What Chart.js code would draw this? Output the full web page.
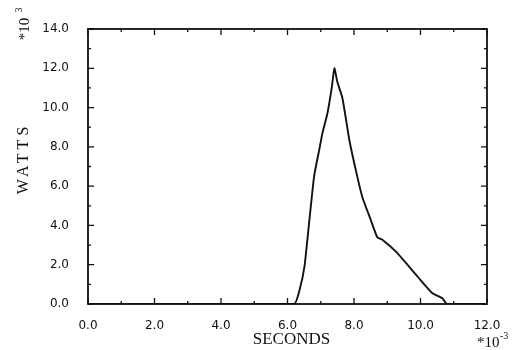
<!DOCTYPE html>
<html>
<head>
<meta charset="utf-8">
<script src="https://cdn.jsdelivr.net/npm/chart.js@4"></script>
<style>
  html, body { margin: 0; padding: 0; background: #fff; }
  #wrap { width: 514px; height: 350px; }
</style>
</head>
<body>
<div id="wrap"><canvas id="chart" width="514" height="350"></canvas></div>
<script>
// data (x in 1e-9 s, y in 1e3 W)
const seconds = [0, 6.2, 6.36, 6.51, 6.66, 6.8, 6.96, 7.05, 7.2, 7.33, 7.41, 7.5, 7.65, 7.86, 8.07, 8.25, 8.5, 8.7, 8.86, 9.27, 9.87, 10.0, 10.35, 10.65, 10.8, 12];
const watts   = [0, 0,   0.7,  1.9,  4.3,  6.5, 7.9,  8.7,  9.7, 11.0, 12.0, 11.3, 10.5, 8.35, 6.7,  5.45, 4.3, 3.4, 3.26, 2.65, 1.48, 1.22, 0.56,  0.3,   0,   0];
const xTicks = [0, 2, 4, 6, 8, 10, 12];
const yTicks = [0, 2, 4, 6, 8, 10, 12, 14];

const ink = '#111';
const tickFont = { family: 'DejaVu Sans', size: 12 };

// frame with inward ticks on all four sides + extra labels
const framePlugin = {
  id: 'frame',
  afterDraw(chart) {
    const ctx = chart.ctx;
    const a = chart.chartArea;
    const xs = chart.scales.x, ys = chart.scales.y;
    ctx.save();
    ctx.strokeStyle = ink;
    ctx.lineWidth = 1.8;
    ctx.strokeRect(a.left, a.top, a.right - a.left, a.bottom - a.top);
    ctx.lineWidth = 1.3;
    for (let v = 0; v <= 12; v++) {
      const px = xs.getPixelForValue(v);
      const len = v % 2 === 0 ? 6 : 3;
      ctx.beginPath();
      ctx.moveTo(px, a.bottom); ctx.lineTo(px, a.bottom - len);
      ctx.moveTo(px, a.top); ctx.lineTo(px, a.top + len);
      ctx.stroke();
    }
    for (let v = 0; v <= 14; v++) {
      const py = ys.getPixelForValue(v);
      const len = v % 2 === 0 ? 6 : 3;
      ctx.beginPath();
      ctx.moveTo(a.left, py); ctx.lineTo(a.left + len, py);
      ctx.moveTo(a.right, py); ctx.lineTo(a.right - len, py);
      ctx.stroke();
    }

    ctx.fillStyle = ink;
    // axis titles
    ctx.font = '17px "Liberation Serif"';
    ctx.textAlign = 'center';
    ctx.textBaseline = 'middle';
    ctx.fillText('SECONDS', (a.left + a.right) / 2 + 4, 340);

    ctx.save();
    ctx.translate(24, (a.top + a.bottom) / 2 - 6);
    ctx.rotate(-Math.PI / 2);
    ctx.letterSpacing = '4px';
    ctx.font = '16px "Liberation Serif"';
    ctx.fillText('WATTS', 2, 0);
    ctx.restore();

    // exponent labels
    ctx.font = '15px "Liberation Serif"';
    ctx.save();
    ctx.translate(25, 26);
    ctx.rotate(-Math.PI / 2);
    ctx.textAlign = 'center';
    ctx.fillText('*10', -3, 0);
    ctx.font = '10px "Liberation Serif"';
    ctx.fillText('3', 16, -6);
    ctx.restore();

    ctx.textAlign = 'left';
    ctx.fillText('*10', 477, 343);
    ctx.font = '10px "Liberation Serif"';
    ctx.fillText('-3', 500, 336);
    ctx.restore();
  }
};

new Chart(document.getElementById('chart').getContext('2d'), {
  type: 'line',
  data: {
    datasets: [{
      data: seconds.map((s, i) => ({ x: s, y: watts[i] })),
      borderColor: ink,
      borderWidth: 1.9,
      pointRadius: 0,
      tension: 0.15,
      fill: false
    }]
  },
  options: {
    responsive: false,
    animation: false,
    layout: { padding: { left: 0, right: 27, top: 29, bottom: 0 } },
    plugins: { legend: { display: false }, tooltip: { enabled: false } },
    scales: {
      x: {
        type: 'linear',
        min: 0, max: 12,
        afterBuildTicks: s => { s.ticks = xTicks.map(v => ({ value: v })); },
        afterFit: s => { s.height = 46; },
        grid: { display: false },
        border: { display: false },
        ticks: { color: ink, font: tickFont, padding: 7, maxRotation: 0, callback: v => v.toFixed(1) }
      },
      y: {
        min: 0, max: 14,
        afterBuildTicks: s => { s.ticks = yTicks.map(v => ({ value: v })); },
        afterFit: s => { s.width = 88; },
        grid: { display: false },
        border: { display: false },
        ticks: { color: ink, font: tickFont, padding: 11, callback: v => v.toFixed(1) }
      }
    }
  },
  plugins: [framePlugin]
});
</script>
</body>
</html>
